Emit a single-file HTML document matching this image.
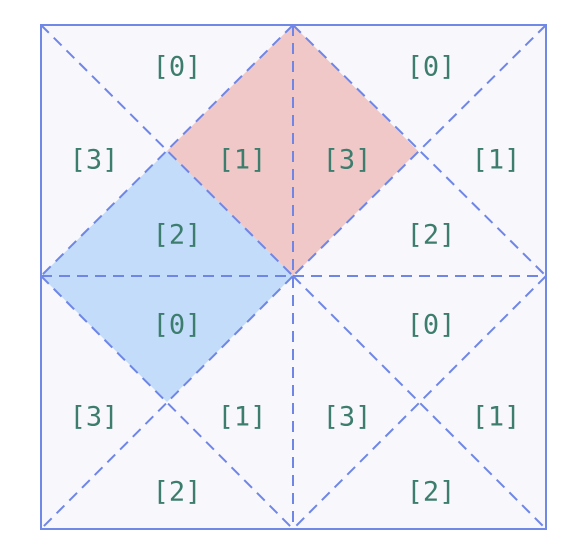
<!DOCTYPE html>
<html><head><meta charset="utf-8"><style>
body{margin:0;background:#fff;width:586px;height:550px;overflow:hidden}
text{font-family:"DejaVu Sans Mono",monospace;font-size:27px;fill:#3d7d6e;text-anchor:middle;dominant-baseline:central}
</style></head><body>
<svg width="586" height="550">
<rect x="41" y="25" width="505" height="504" fill="#f7f7fc"/>
<polygon points="293,25 418,151 293,276 167,151" fill="#f0c8c8"/>
<polygon points="167,151 293,276 167,402 41,276" fill="#c2dcfa"/>
<g stroke="#6f86e6" stroke-width="2" stroke-dasharray="11,7" fill="none">
<line x1="41" y1="25" x2="293" y2="276"/><line x1="293" y1="25" x2="41" y2="276"/>
<line x1="293" y1="25" x2="546" y2="276"/><line x1="546" y1="25" x2="293" y2="276"/>
<line x1="41" y1="276" x2="293" y2="529"/><line x1="293" y1="276" x2="41" y2="529"/>
<line x1="293" y1="276" x2="546" y2="529"/><line x1="546" y1="276" x2="293" y2="529"/>
<line x1="293" y1="25" x2="293" y2="529"/><line x1="41" y1="276" x2="546" y2="276"/>
</g>
<rect x="41" y="25" width="505" height="504" fill="none" stroke="#7088e6" stroke-width="2"/>
<g>
<text x="177" y="67">[0]</text><text x="94" y="160">[3]</text><text x="242" y="160">[1]</text><text x="177" y="235">[2]</text>
<text x="431" y="67">[0]</text><text x="347" y="160">[3]</text><text x="496" y="160">[1]</text><text x="431" y="235">[2]</text>
<text x="177" y="325">[0]</text><text x="94" y="417">[3]</text><text x="242" y="417">[1]</text><text x="177" y="492">[2]</text>
<text x="431" y="325">[0]</text><text x="347" y="417">[3]</text><text x="496" y="417">[1]</text><text x="431" y="492">[2]</text>
</g>
</svg>
</body></html>
